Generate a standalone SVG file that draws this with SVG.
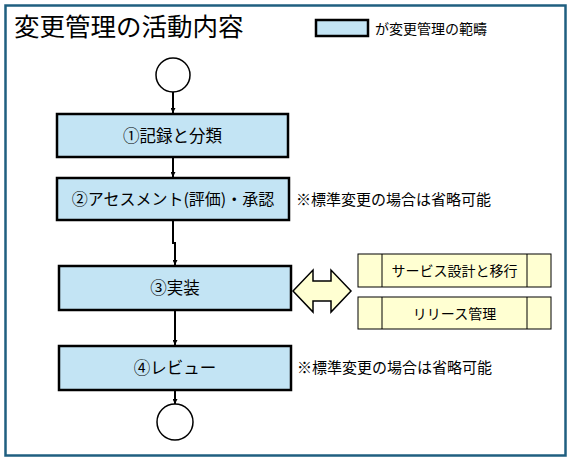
<svg xmlns="http://www.w3.org/2000/svg" width="571" height="461" viewBox="0 0 571 461">
<defs>
<style>
.t{font-family:"Noto Sans CJK JP","Liberation Sans",sans-serif;fill:#000}
.box{fill:#C3E4F4;stroke:#000;stroke-width:2.5}
.ybox{fill:#FFFFD2;stroke:#000;stroke-width:1}
.circ{fill:#fff;stroke:#000;stroke-width:1.5}
.con{stroke:#000;stroke-width:2;fill:none}
</style>
<marker id="ah" viewBox="0 0 10 10" refX="10" refY="5" markerWidth="5" markerHeight="5" orient="auto" markerUnits="userSpaceOnUse">
<path d="M0,0 L10,5 L0,10 z" fill="#000"/>
</marker>
</defs>
<rect x="0" y="0" width="571" height="461" fill="#fff"/>
<rect x="5.5" y="5.5" width="560" height="450" fill="#fff" stroke="#1F5F80" stroke-width="2.5"/>
<text class="t" x="14" y="36" font-size="25.5">変更管理の活動内容</text>
<g id="legend">
<rect x="316" y="20" width="52" height="16" class="box" stroke-width="2"/>
<text class="t" x="375" y="34" font-size="14">が変更管理の範疇</text>
</g>
<g id="start"><circle cx="173" cy="75" r="17" class="circ"/></g>
<g id="n1"><rect x="57" y="114" width="231" height="43" class="box"/><text class="t" x="172.5" y="142" font-size="16.5" text-anchor="middle">①記録と分類</text></g>
<g id="n2"><rect x="57" y="178" width="232" height="42" class="box"/><text class="t" x="173" y="205" font-size="16" text-anchor="middle">②アセスメント(評価)・承認</text></g>
<text class="t" x="296" y="205" font-size="15">※標準変更の場合は省略可能</text>
<g id="n3"><rect x="59" y="266" width="232" height="44" class="box"/><text class="t" x="175" y="294" font-size="16.5" text-anchor="middle">③実装</text></g>
<g id="n4"><rect x="59" y="346" width="232" height="44" class="box"/><text class="t" x="175" y="374" font-size="16.5" text-anchor="middle">④レビュー</text></g>
<text class="t" x="297" y="373" font-size="15">※標準変更の場合は省略可能</text>
<g id="end"><circle cx="175" cy="422" r="18" class="circ"/></g>
<g id="dblarrow"><path d="M293,291 L313,270 L313,281 L331,281 L331,270 L351,291 L331,312 L331,301 L313,301 L313,312 Z" fill="#FFFFD2" stroke="#000" stroke-width="1.5"/></g>
<g id="r1"><rect x="358" y="254" width="193" height="33" class="ybox"/><line x1="382" y1="254" x2="382" y2="287" stroke="#000"/><line x1="527" y1="254" x2="527" y2="287" stroke="#000"/><text class="t" x="454.5" y="276" font-size="14" text-anchor="middle">サービス設計と移行</text></g>
<g id="r2"><rect x="358" y="297" width="193" height="32" class="ybox"/><line x1="382" y1="297" x2="382" y2="329" stroke="#000"/><line x1="527" y1="297" x2="527" y2="329" stroke="#000"/><text class="t" x="454.5" y="319" font-size="14" text-anchor="middle">リリース管理</text></g>
<g id="connectors">
<line x1="173" y1="92" x2="173" y2="113" class="con" marker-end="url(#ah)"/>
<line x1="173" y1="157" x2="173" y2="177" class="con" marker-end="url(#ah)"/>
<polyline points="173,220 173,243 175,243 175,265" class="con" marker-end="url(#ah)"/>
<line x1="175" y1="310" x2="175" y2="345" class="con" marker-end="url(#ah)"/>
<line x1="175" y1="390" x2="175" y2="404" class="con" marker-end="url(#ah)"/>
</g>
</svg>
